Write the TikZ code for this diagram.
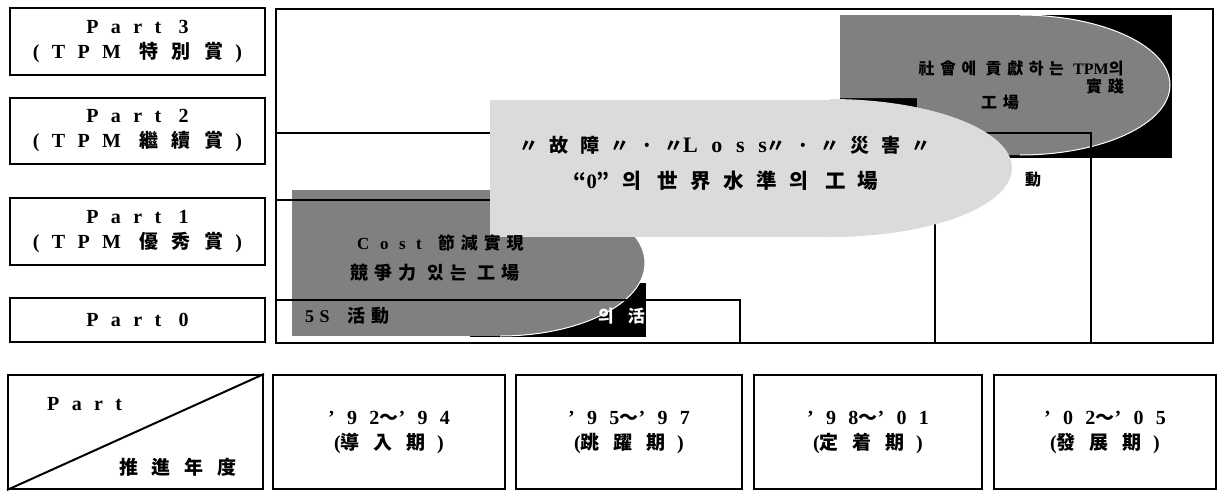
\documentclass[tikz,border=0pt]{standalone}
\usepackage{fontspec}
\setmainfont{Liberation Serif}
\newfontfamily\lsp{Liberation Serif}[LetterSpace=62]
\newfontfamily\lspn{Liberation Serif}[LetterSpace=30]
\newfontfamily\ksp{Noto Sans CJK KR}[LetterSpace=60]
\newfontfamily\kspw{Noto Sans CJK KR}[LetterSpace=72]
\newfontfamily\kspn{Noto Sans CJK KR}[LetterSpace=35]
\newcommand\La[1]{{\lsp\bfseries #1}}
\newcommand\Ln[1]{{\lspn\bfseries #1}}
\newcommand\Ka[1]{{\ksp\bfseries #1}}
\newcommand\Kw[1]{{\kspw\bfseries #1}}
\newcommand\Kn[1]{{\kspn\bfseries #1}}
\newcommand\Lt[1]{{\fontsize{20}{26}\selectfont\La{#1}}}
\newcommand\Kt[1]{{\fontsize{19}{26}\selectfont\Ka{#1}}}
\newcommand\Kwt[1]{{\fontsize{19}{26}\selectfont\Kw{#1}}}
\definecolor{costgray}{gray}{0.50}
\definecolor{tpmgray}{gray}{0.50}
\definecolor{lossgray}{gray}{0.86}
\begin{document}
\begin{tikzpicture}[x=1pt,y=-1pt,
  box/.style={draw, line width=2pt, inner sep=0pt, align=center},
  lbl/.style={font=\fontsize{20}{25}\selectfont},
  stair/.style={line width=2pt},
  txt/.style={inner sep=0pt, align=center}]
\useasboundingbox (0,0) rectangle (1221,491);

% left column
\node[box, lbl, minimum width=255pt, minimum height=67pt] (p3) at (137.5,41.5)
  {\Lt{Part 3}\\\Lt{(TPM}\hspace{18pt}\Kwt{特別賞}\hspace{12pt}\Lt{)}};
\node[box, lbl, minimum width=255pt, minimum height=66pt] (p2) at (137.5,131)
  {\Lt{Part 2}\\\Lt{(TPM}\hspace{18pt}\Kwt{繼續賞}\hspace{12pt}\Lt{)}};
\node[box, lbl, minimum width=255pt, minimum height=67pt] (p1) at (137.5,231.5)
  {\Lt{Part 1}\\\Lt{(TPM}\hspace{18pt}\Kwt{優秀賞}\hspace{12pt}\Lt{)}};
\node[box, lbl, minimum width=255pt, minimum height=44pt] (p0) at (137.5,320)
  {\Lt{Part 0}};

% bottom row
\node[box, minimum width=255pt, minimum height=114pt] (pb) at (135.5,432) {};
\draw[line width=2pt] (pb.south west) -- (pb.north east);
\node[txt, lbl, anchor=west] (pbt) at (47,404) {\Lt{Part}};
\node[txt, lbl, anchor=west] (pby) at (119,467) {\Kwt{推進年度}};
\node[box, lbl, minimum width=232pt, minimum height=114pt] (y1) at (389,432)
  {\Lt{’92}\Kt{～}\Lt{’94}\\\Lt{(}\Kwt{導入期}\hspace{12pt}\Lt{)}};
\node[box, lbl, minimum width=226pt, minimum height=114pt] (y2) at (629,432)
  {\Lt{’95}\Kt{～}\Lt{’97}\\\Lt{(}\Kwt{跳躍期}\hspace{12pt}\Lt{)}};
\node[box, lbl, minimum width=228pt, minimum height=114pt] (y3) at (868,432)
  {\Lt{’98}\Kt{～}\Lt{’01}\\\Lt{(}\Kwt{定着期}\hspace{12pt}\Lt{)}};
\node[box, lbl, minimum width=222pt, minimum height=114pt] (y4) at (1105,432)
  {\Lt{’02}\Kt{～}\Lt{’05}\\\Lt{(}\Kwt{發展期}\hspace{12pt}\Lt{)}};

% big frame
\node[box, minimum width=937pt, minimum height=334pt] (big) at (744.5,176) {};

% Cost shape (part 1 level)
\fill[black] (470,283) rectangle (646,337);
\fill[costgray] (292,190) rectangle (500,336);
\begin{scope}
  \clip (500,150) rectangle (700,340);
  \fill[costgray] (500,263) ellipse [x radius=145, y radius=73];
  \draw[white, line width=1pt] (500,263) ellipse [x radius=145, y radius=73];
\end{scope}

% TPM shape (part 3 level)
\fill[black] (840,15) rectangle (1172,158);
\fill[tpmgray] (840,15) -- (1020,15) -- (1020,155) -- (917,155) -- (917,98) -- (840,98) -- cycle;
\begin{scope}
  \clip (1020,0) rectangle (1200,200);
  \fill[tpmgray] (1020,85) ellipse [x radius=150, y radius=70];
  \draw[white, line width=1pt] (1020,85) ellipse [x radius=150, y radius=70];
\end{scope}

% staircase lines
\draw[stair] (276,133) -- (1091,133) -- (1091,343);
\draw[stair] (276,200) -- (935,200) -- (935,343);
\draw[stair] (276,300) -- (740,300) -- (740,343);

% texts under the light shape
\node[txt, anchor=west] (s5) at (305,316) {{\fontsize{18}{22}\selectfont\Ln{5S}\hspace{18pt}\Kn{活動}}};
\begin{scope}
  \clip (470,283) rectangle (646,337);
  \node[txt, anchor=west, text=white] (ui) at (598,316) {{\fontsize{17}{20}\selectfont\Ka{의 活}}};
\end{scope}
\node[txt] (dong) at (1033,180) {{\fontsize{16}{20}\selectfont\Kn{動}}};

% Loss shape (part 2 level)
\fill[lossgray] (490,100) rectangle (830,237);
\begin{scope}
  \clip (830,50) rectangle (1100,260);
  \fill[lossgray] (830,168) ellipse [x radius=182, y radius=69];
\end{scope}

% texts on shapes
\node[txt, anchor=west] (c1) at (357,243) {{\fontsize{17}{20}\selectfont\La{Cost}\hspace{16pt}\Kn{節減實現}}};
\node[txt, anchor=west] (c2) at (350,273) {{\fontsize{18}{20}\selectfont\Kn{競爭力 있는 工場}}};

\node[txt, font=\fontsize{16}{18}\selectfont] (t1) at (1021,68) {\Kn{社會에 貢獻하는 }{\bfseries TPM}\Kn{의}};
\node[txt, font=\fontsize{16}{18}\selectfont] (t2) at (1105,86) {\Kn{實踐}};
\node[txt, font=\fontsize{16}{18}\selectfont] (t3) at (1000,103) {\Kn{工場}};

\node[txt, font=\fontsize{19}{24}\selectfont] (l1) at (725,145)
  {\Ka{〃故障〃·〃}{\fontsize{22}{24}\selectfont\La{Loss}}\Ka{〃·〃災害〃}};
\node[txt, font=\fontsize{20.5}{24}\selectfont] (l2) at (726,181)
  {\Ka{“}\La{0}\Ka{”의 世界水準의 工場}};
\end{tikzpicture}
\end{document}
